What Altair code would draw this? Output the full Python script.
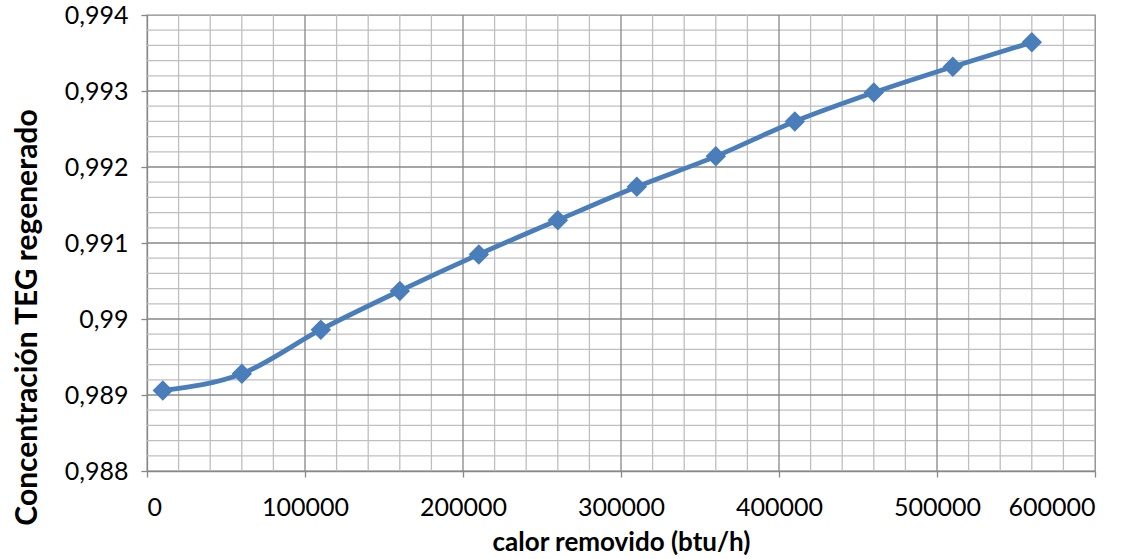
import altair as alt
import pandas as pd

# Heat removed (btu/h) vs. regenerated TEG concentration
calor = [10000, 60000, 110000, 160000, 210000, 260000,
         310000, 360000, 410000, 460000, 510000, 560000]
concentracion = [0.98906, 0.98928, 0.98986, 0.99037, 0.99085, 0.99130,
                 0.99174, 0.99214, 0.99260, 0.99298, 0.99332, 0.99364]

# Grid positions: major every 100000 / 0.001, minor every 20000 / 0.0002
x_major = [0, 100000, 200000, 300000, 400000, 500000, 600000]
y_major = [0.988, 0.989, 0.990, 0.991, 0.992, 0.993, 0.994]
x_minor = [v for v in range(0, 600001, 20000) if v % 100000 != 0]
y_minor = [round(0.988 + i * 0.0002, 4) for i in range(31) if i % 5 != 0]

df = pd.DataFrame({"calor": calor, "conc": concentracion})

FONT = "Lato"
BLUE = "#4A7EBB"
MAJOR = "#878787"
MINOR = "#BFBFBF"

xs = alt.Scale(domain=[0, 600000], nice=False)
ys = alt.Scale(domain=[0.988, 0.994], nice=False, zero=False)

x_axis = alt.Axis(
    title="calor removido (btu/h)",
    values=x_major,
    format="d",
    grid=False,
    tickSize=6,
    labelPadding=18,
    titlePadding=9,
    titleFontSize=26,
)
y_axis = alt.Axis(
    title="Concentración TEG regenerado",
    values=y_major,
    labelExpr="replace(format(datum.value, '.3~f'), '.', ',')",
    grid=False,
    tickSize=6,
    labelPadding=13,
    titlePadding=22,
    titleFontSize=30,
    titleY=302,
)


def vrules(values, color):
    return alt.Chart(pd.DataFrame({"v": values})).mark_rule(
        color=color, strokeWidth=1.3
    ).encode(x=alt.X("v:Q", scale=xs, axis=x_axis))


def hrules(values, color):
    return alt.Chart(pd.DataFrame({"v": values})).mark_rule(
        color=color, strokeWidth=1.3
    ).encode(y=alt.Y("v:Q", scale=ys, axis=y_axis))


base = alt.Chart(df).encode(
    x=alt.X("calor:Q", scale=xs, axis=x_axis),
    y=alt.Y("conc:Q", scale=ys, axis=y_axis),
)

line = base.mark_line(color=BLUE, strokeWidth=4.8, interpolate="monotone")
points = base.mark_point(shape="diamond", filled=True, opacity=1, color=BLUE, size=420)

chart = alt.layer(
    vrules(x_minor, MINOR),
    hrules(y_minor, MINOR),
    vrules(x_major[1:-1], MAJOR),
    hrules(y_major[1:-1], MAJOR),
    line,
    points,
).properties(
    width=948,
    height=456,
    autosize=alt.AutoSizeParams(type="none"),
    padding={"left": 147, "top": 15, "right": 43, "bottom": 88},
).configure_view(
    stroke=MAJOR, strokeWidth=1.3
).configure_axis(
    domainColor=MAJOR,
    domainWidth=1.3,
    tickColor=MAJOR,
    tickWidth=1.3,
    labelFont=FONT,
    labelFontSize=25,
    labelColor="#000000",
    titleFont=FONT,
    titleFontWeight="bold",
    titleColor="#000000",
)

chart.save("out.html", embed_options={"renderer": "svg", "actions": False})
